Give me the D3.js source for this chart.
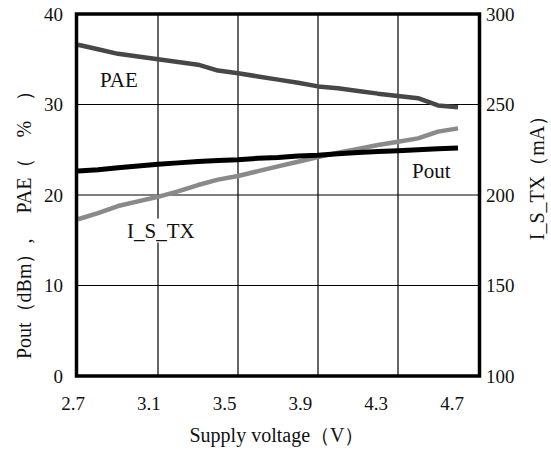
<!DOCTYPE html>
<html>
<head>
<meta charset="utf-8">
<script src="https://cdn.jsdelivr.net/npm/d3@7"></script>
<style>
  body { margin: 0; background: #fff; }
  text { font-family: "Liberation Serif", "Times New Roman", serif; fill: #111; white-space: pre; }
</style>
</head>
<body>
<div id="chart"></div>
<script>
// supply voltage (V)
let voltage = [2.7, 2.8, 2.9, 3.0, 3.1, 3.2, 3.3, 3.4, 3.5, 3.6, 3.7, 3.8, 3.9, 4.0, 4.1, 4.2, 4.3, 4.4, 4.5, 4.6];
// PAE (%)
let pae = [36.6, 36.1, 35.6, 35.3, 35.0, 34.7, 34.4, 33.75, 33.45, 33.1, 32.75, 32.4, 32.0, 31.8, 31.5, 31.2, 30.95, 30.7, 29.9, 29.7];
// Pout (dBm)
let pout = [22.65, 22.8, 23.0, 23.2, 23.4, 23.55, 23.7, 23.8, 23.9, 24.05, 24.15, 24.3, 24.4, 24.55, 24.7, 24.8, 24.9, 25.0, 25.1, 25.2];
// I_S_TX (mA)
let istx = [186.6, 190, 193.9, 196.5, 199, 202, 205.5, 208.5, 210.5, 213.2, 215.8, 218.4, 221, 223.3, 225.5, 227.6, 229.4, 231.3, 235, 236.8];

let xTicks = ["2.7", "3.1", "3.5", "3.9", "4.3", "4.7"];
let leftTicks = [0, 10, 20, 30, 40];
let rightTicks = [100, 150, 200, 250, 300];

function draw_chart() {
    let width = 551, height = 452;

    let svg = d3.select("#chart")
        .append("svg")
        .attr("width", width)
        .attr("height", height);

    let x = d3.scaleLinear().domain([2.7, 4.7]).range([78, 478]);
    let yL = d3.scaleLinear().domain([0, 40]).range([376, 14]);
    let yR = d3.scaleLinear().domain([100, 300]).range([376, 14]);
    // tick labels sit slightly left of the grid in the original
    let xLab = d3.scalePoint().domain(xTicks).range([73, 452]);

    // grid
    svg.append("g")
        .selectAll("line")
        .data(xTicks.slice(1, -1))
        .enter()
        .append("line")
        .attr("x1", d => x(+d)).attr("x2", d => x(+d))
        .attr("y1", yL(40)).attr("y2", yL(0))
        .attr("stroke", "#000").attr("stroke-width", 1.2);

    svg.append("g")
        .selectAll("line")
        .data(leftTicks.slice(1, -1))
        .enter()
        .append("line")
        .attr("x1", x(2.7)).attr("x2", x(4.7))
        .attr("y1", d => yL(d)).attr("y2", d => yL(d))
        .attr("stroke", "#000").attr("stroke-width", 1.2);

    // series
    let series = [
        {name: "PAE", values: pae, y: yL, color: "#474747", w: 4.5},
        {name: "I_S_TX", values: istx, y: yR, color: "#8a8a8a", w: 4.5},
        {name: "Pout", values: pout, y: yL, color: "#000", w: 5}
    ];

    series.forEach(function (s) {
        let line = d3.line()
            .x((d, i) => x(voltage[i]))
            .y(d => s.y(d));
        svg.append("path")
            .datum(s.values)
            .attr("d", line)
            .attr("fill", "none")
            .attr("stroke", s.color)
            .attr("stroke-width", s.w)
            .attr("stroke-linejoin", "round");
    });

    // series labels (anchored in data units)
    let labels = [
        {text: "PAE", v: 2.81, val: 31.9},
        {text: "I_S_TX", v: 2.945, val: 15.3},
        {text: "Pout", v: 4.37, val: 21.9}
    ];
    labels.forEach(function (l) {
        let t = svg.append("text")
            .attr("x", x(l.v))
            .attr("y", yL(l.val))
            .attr("font-size", 21)
            .text(l.text);
        let b = t.node().getBBox();
        svg.insert("rect", "text")
            .attr("x", b.x - 2).attr("y", b.y)
            .attr("width", b.width + 4).attr("height", b.height)
            .attr("fill", "#fff");
    });

    // frame
    svg.append("rect")
        .attr("x", x(2.7) - 1.5).attr("y", yL(40))
        .attr("width", x(4.7) - x(2.7) + 3)
        .attr("height", yL(0) - yL(40))
        .attr("fill", "none")
        .attr("stroke", "#000")
        .attr("stroke-width", 3.5);

    // tick labels
    svg.append("g")
        .selectAll("text")
        .data(leftTicks)
        .enter()
        .append("text")
        .attr("x", 63)
        .attr("y", d => yL(d))
        .attr("dy", "0.35em")
        .attr("text-anchor", "end")
        .attr("font-size", 19)
        .text(d => d);

    svg.append("g")
        .selectAll("text")
        .data(rightTicks)
        .enter()
        .append("text")
        .attr("x", 486)
        .attr("y", d => yR(d))
        .attr("dy", "0.35em")
        .attr("font-size", 19)
        .text(d => d);

    svg.append("g")
        .selectAll("text")
        .data(xTicks)
        .enter()
        .append("text")
        .attr("x", d => xLab(d))
        .attr("y", 410)
        .attr("text-anchor", "middle")
        .attr("font-size", 19)
        .text(d => d);

    // axis titles
    svg.append("text")
        .attr("x", 277).attr("y", 442)
        .attr("text-anchor", "middle")
        .attr("font-size", 20)
        .text("Supply voltage（V）");

    svg.append("text")
        .attr("transform", "translate(31,220) rotate(-90)")
        .attr("text-anchor", "middle")
        .attr("font-size", 20)
        .text("Pout（dBm）,     PAE（　%　）");

    svg.append("text")
        .attr("transform", "translate(544,173) rotate(-90)")
        .attr("text-anchor", "middle")
        .attr("font-size", 20)
        .text("I_S_TX（mA）");
}

draw_chart();
</script>
</body>
</html>
